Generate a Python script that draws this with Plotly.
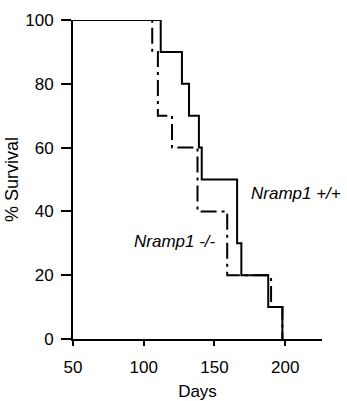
import plotly.graph_objects as go

# Kaplan-Meier step data (days, % survival)
wt_days = [50, 112, 127, 132, 139, 141, 166, 169, 188, 198]
wt_surv = [100, 90, 80, 70, 60, 50, 30, 20, 10, 0]

ko_days = [50, 106, 110, 120, 138, 159, 190, 198]
ko_surv = [100, 90, 70, 60, 40, 20, 10, 0]

x_ticks = [50, 100, 150, 200]
y_ticks = [0, 20, 40, 60, 80, 100]

FONT = "Liberation Sans, Arial, sans-serif"

fig = go.Figure()
fig.add_trace(go.Scatter(
    x=ko_days, y=ko_surv, mode="lines", line_shape="hv",
    line=dict(color="black", width=2, dash="16px,5px,3px,5px"),
    name="Nramp1 -/-", showlegend=False, hoverinfo="skip"))
fig.add_trace(go.Scatter(
    x=wt_days, y=wt_surv, mode="lines", line_shape="hv",
    line=dict(color="black", width=2),
    name="Nramp1 +/+", showlegend=False, hoverinfo="skip"))

fig.update_layout(
    width=347, height=401,
    margin=dict(l=73, r=25, t=20, b=62, autoexpand=False),
    paper_bgcolor="white", plot_bgcolor="white",
    font=dict(family=FONT, size=17, color="black"),
    xaxis=dict(range=[50, 226], tickvals=x_ticks, showgrid=False, zeroline=False,
               automargin=False,
               showline=True, linecolor="black", linewidth=2,
               ticks="outside", ticklen=5, tickwidth=2, tickcolor="black",
               ticklabelstandoff=7,
               title=dict(text="Days", standoff=11, font=dict(size=17))),
    yaxis=dict(range=[0, 100], tickvals=y_ticks, showgrid=False, zeroline=False,
               automargin=False,
               showline=True, linecolor="black", linewidth=2,
               ticks="outside", ticklen=10, tickwidth=2, tickcolor="black",
               ticklabelstandoff=4,
               title=dict(text="% Survival", standoff=2, font=dict(size=18))),
    annotations=[
        dict(x=174.7, y=45.6, xref="x", yref="y", text="<i>Nramp1 +/+</i>",
             showarrow=False, xanchor="left", yanchor="middle",
             font=dict(family=FONT, size=17, color="black")),
        dict(x=91.6, y=30.5, xref="x", yref="y", text="<i>Nramp1 -/-</i>",
             showarrow=False, xanchor="left", yanchor="middle",
             font=dict(family=FONT, size=17, color="black")),
    ],
)

fig.write_html("out.html", config={"displayModeBar": False},
               post_script="document.body.style.margin='0';document.body.style.overflow='hidden';")
